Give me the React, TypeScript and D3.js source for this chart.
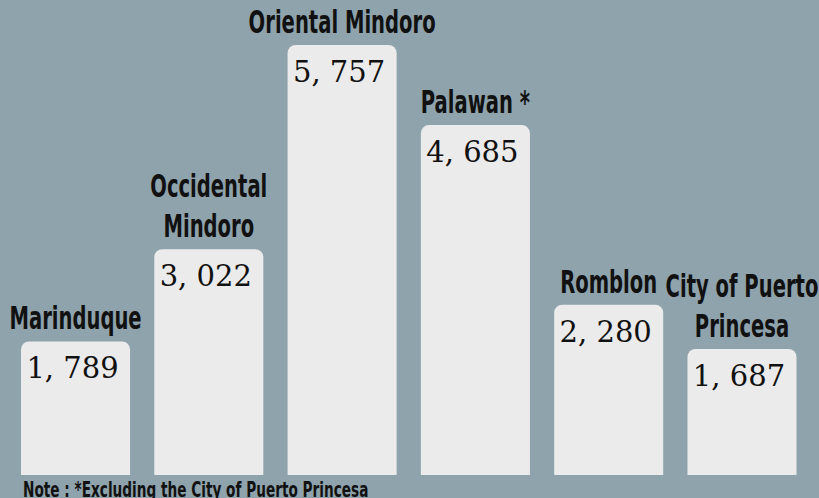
import React, { useEffect } from "react";
import * as d3 from "d3";

const categories: string[][] = [
  ["Marinduque"],
  ["Occidental", "Mindoro"],
  ["Oriental Mindoro"],
  ["Palawan *"],
  ["Romblon"],
  ["City of Puerto", "Princesa"],
];
const values: number[] = [1789, 3022, 5757, 4685, 2280, 1687];
const valueLabels: string[] = ["1, 789", "3, 022", "5, 757", "4, 685", "2, 280", "1, 687"];
const note = "Note : *Excluding the City of Puerto Princesa";

const W = 819;
const H = 498;
const BG = "#8fa3ac";
const BAR = "#ebebeb";
const LABEL_FONT = "'DejaVu Sans Condensed', 'DejaVu Sans', sans-serif";
const VALUE_FONT = "'DejaVu Serif', 'Liberation Serif', serif";
const SX = 0.68;

function topRoundedRect(x: number, y: number, w: number, h: number, r: number) {
  const p = d3.path();
  p.moveTo(x, y + h);
  p.lineTo(x, y + r);
  p.arcTo(x, y, x + r, y, r);
  p.lineTo(x + w - r, y);
  p.arcTo(x + w, y, x + w, y + r, r);
  p.lineTo(x + w, y + h);
  p.closePath();
  return p.toString();
}

export default function App() {
  useEffect(() => {
    document.body.style.margin = "0";
  }, []);

  const x = d3
    .scaleBand<number>()
    .domain(d3.range(values.length))
    .range([21, 796.5])
    .paddingInner(0.182)
    .paddingOuter(0);
  const y = d3.scaleLinear().domain([0, 5757]).range([475, 45]);

  const lineH = 40;

  return (
    <svg width={W} height={H} style={{ display: "block" }}>
      <rect x={0} y={0} width={W} height={H} fill={BG} />
      {values.map((v, i) => {
        const bx = x(i)!;
        const bw = x.bandwidth();
        const top = y(v);
        const cx = bx + bw / 2;
        const lines = categories[i];
        return (
          <g key={i}>
            <path d={topRoundedRect(bx, top, bw, y(0) - top, 8)} fill={BAR} />
            {lines.map((ln, j) => (
              <text
                key={j}
                transform={`translate(${cx},${top - 12 - (lines.length - 1 - j) * lineH}) scale(${SX},1)`}
                textAnchor="middle"
                fontFamily={LABEL_FONT}
                fontWeight="bold"
                fontSize={32}
                fill="#111"
              >
                {ln}
              </text>
            ))}
            <text
              x={cx - 3}
              y={top + 37}
              textAnchor="middle"
              fontFamily={VALUE_FONT}
              fontSize={29}
              fill="#111"
            >
              {valueLabels[i]}
            </text>
          </g>
        );
      })}
      <text
        transform={`translate(23,497) scale(0.69,1)`}
        fontFamily={LABEL_FONT}
        fontWeight="bold"
        fontSize={22}
        fill="#111"
      >
        {note}
      </text>
    </svg>
  );
}
